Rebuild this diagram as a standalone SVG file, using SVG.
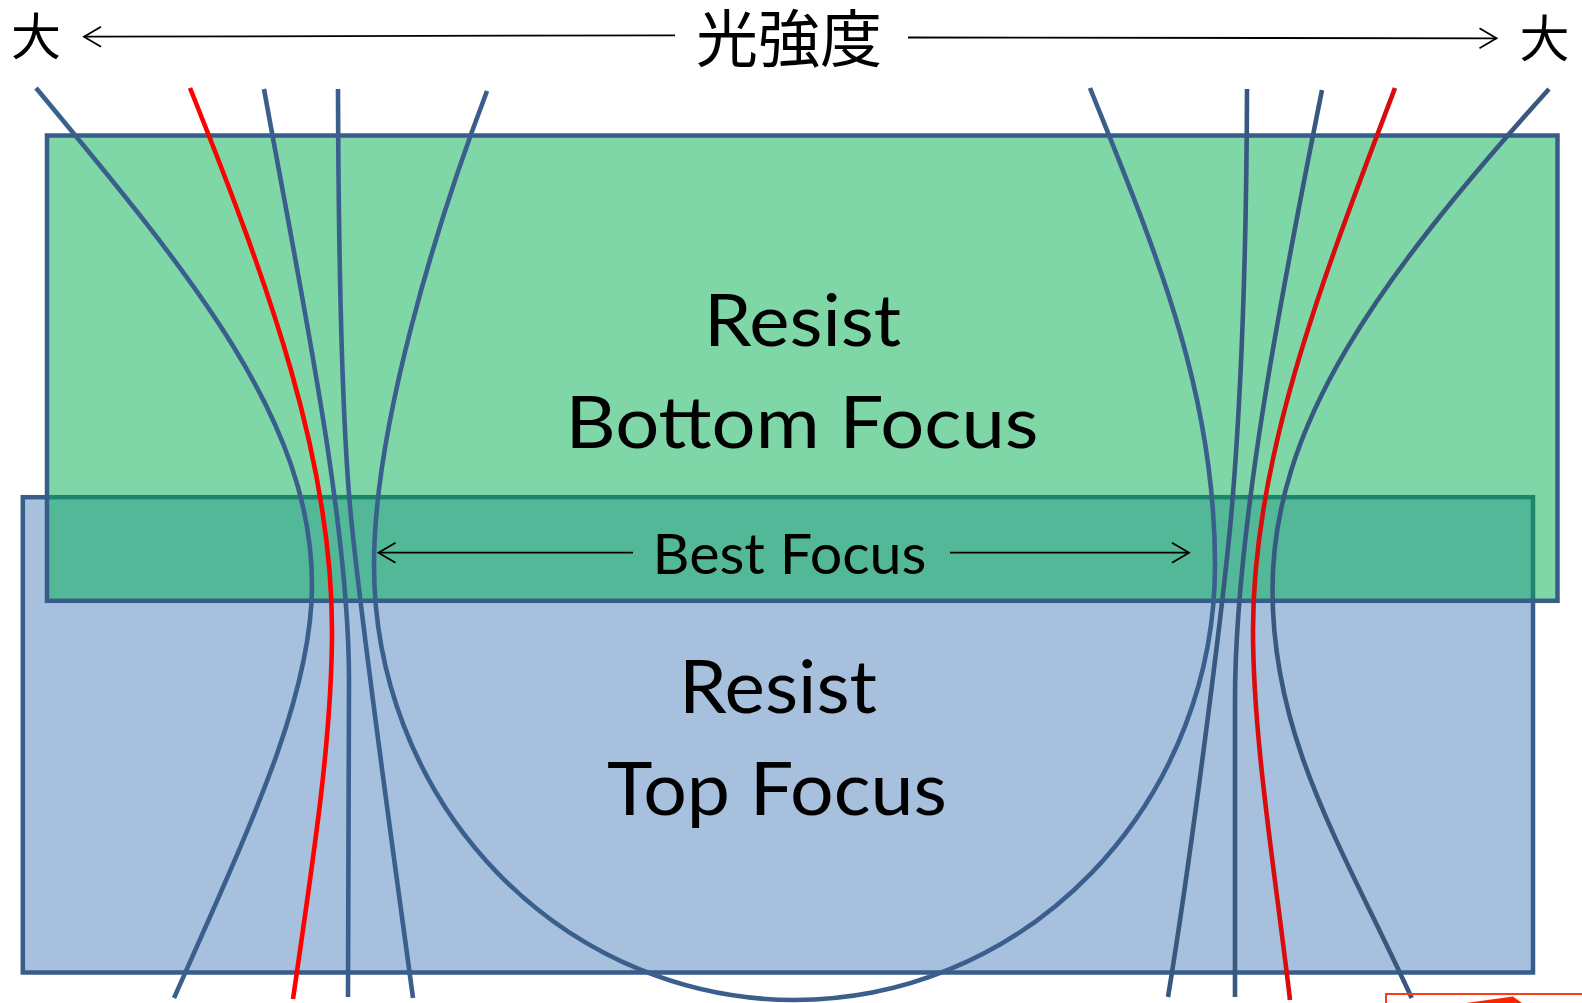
<svg xmlns="http://www.w3.org/2000/svg" width="1582" height="1003" viewBox="0 0 1582 1003">
<defs>
<style>
.box{stroke:#385D8A;stroke-width:4.5}
.curve{fill:none;stroke:#3B5F8D;stroke-width:4.6}
.curve-r{fill:none;stroke:#39587F;stroke-width:4.6}
.red{fill:none;stroke:#FF0000;stroke-width:4.6}
.red-r{fill:none;stroke:#D80C0C;stroke-width:4.6}
.arrow{fill:none;stroke:#000;stroke-width:1.8;marker-end:url(#open)}
.lbl{font-family:Lato,"Open Sans","Noto Sans",sans-serif;fill:#000;text-anchor:middle}
.cjk{font-family:"Noto Sans CJK JP","Noto Sans CJK SC",sans-serif;fill:#000;text-anchor:middle}
</style>
<marker id="open" markerUnits="userSpaceOnUse" viewBox="-19 -12 21 24" refX="0" refY="0" markerWidth="21" markerHeight="24" orient="auto" overflow="visible">
<path d="M-17,-10 L0,0 L-17,10" fill="none" stroke="#000" stroke-width="1.8"/>
</marker>
</defs>
<rect width="1582" height="1003" fill="#fff"/>
<g id="top-focus">
<rect x="22.8" y="497.2" width="1510.2" height="475.3" fill="#4F81BD" fill-opacity="0.5" class="box"/>
</g>
<g id="bottom-focus">
<rect x="47" y="135.5" width="1510.5" height="465.3" fill="#00B050" fill-opacity="0.5" class="box"/>
</g>
<g id="labels">
<text class="lbl" x="802.5" y="346" font-size="72" textLength="197" lengthAdjust="spacingAndGlyphs">Resist</text>
<text class="lbl" x="802" y="448.3" font-size="72" textLength="473" lengthAdjust="spacingAndGlyphs">Bottom Focus</text>
<text class="lbl" x="789.5" y="574" font-size="56" textLength="274" lengthAdjust="spacingAndGlyphs">Best Focus</text>
<text class="lbl" x="778" y="713.3" font-size="74" textLength="198" lengthAdjust="spacingAndGlyphs">Resist</text>
<text class="lbl" x="777" y="815" font-size="74" textLength="340" lengthAdjust="spacingAndGlyphs">Top Focus</text>
<text class="cjk" x="789" y="62.4" font-size="62">光強度</text>
<text class="cjk" x="36" y="54.8" font-size="50">大</text>
<text class="cjk" x="1544.5" y="56.5" font-size="50">大</text>
</g>
<g id="connectors">
<path class="arrow" d="M675,35.3 L84,36.7"/>
<path class="arrow" d="M908,37.5 L1496.5,38.3"/>
<path class="arrow" d="M633,552.7 L378.5,552.7"/>
<path class="arrow" d="M950,552.7 L1189,552.7"/>
</g>
<g id="curves">
<path class="curve" d="M36,88 C192,276 312,420 312,585 C312,695 253,820 174,998"/>
<path class="red" d="M190,88 C270,288 332,460 332,630 C332,740 313,860 293,999"/>
<path class="curve" d="M264,89 C300,289 349,520 349,680 L348,997"/>
<path class="curve" d="M338,89 C338.5,250 341.3,398 349.3,498 C357.3,598 395.6,868 413,998"/>
<path class="curve" d="M487,91 C437.6,221 374,425 374,565 A420.5,435 0 0 0 1215,565 C1215,389 1154,248 1090,88"/>
<path class="curve-r" d="M1247,89 C1246.5,250 1240.7,398 1232.7,498 C1224.7,598 1189.5,867 1168,997"/>
<path class="curve-r" d="M1322,90 C1282,290 1235,530 1235,700 L1235,997"/>
<path class="red-r" d="M1395,88 C1319,288 1253,460 1253,630 C1253,740 1274.8,870 1290,1000"/>
<path class="curve-r" d="M1549,89 C1378,279 1272.5,425 1272.5,590 C1272.5,740 1342.7,848 1411.7,998"/>
</g>
<g id="corner-fragment">
<rect x="1386" y="994" width="220" height="30" fill="none" stroke="#FF3A1A" stroke-width="2"/>
<polygon points="1466,1003 1513,996.5 1522,1003" fill="#FF2200"/>
</g>
</svg>
